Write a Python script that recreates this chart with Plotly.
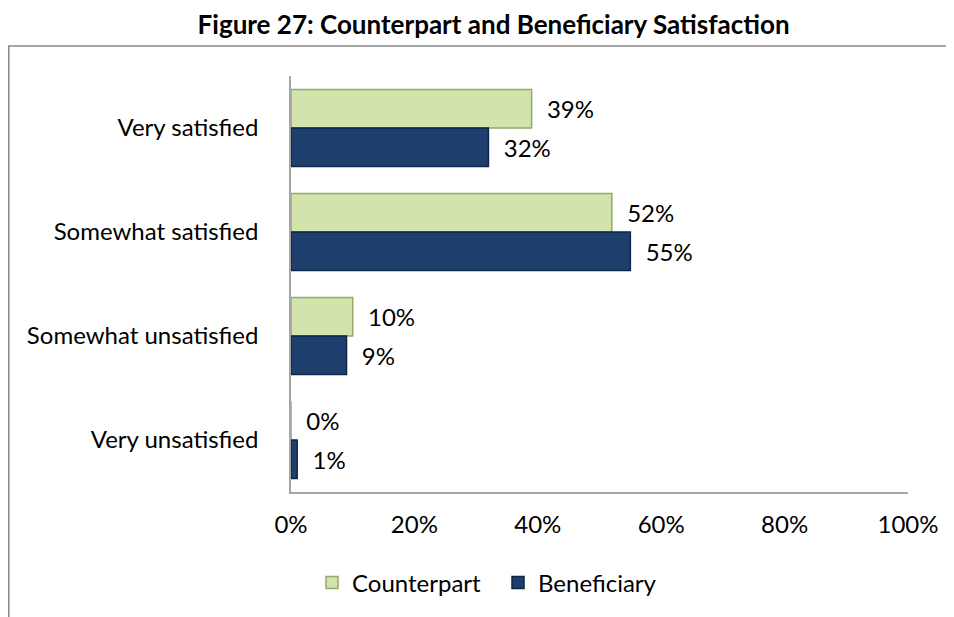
import plotly.graph_objects as go

categories = ["Very satisfied", "Somewhat satisfied", "Somewhat unsatisfied", "Very unsatisfied"]
counterpart = [0.39, 0.52, 0.10, 0.0]
beneficiary = [0.32, 0.55, 0.09, 0.01]
x_ticks = [0, 0.2, 0.4, 0.6, 0.8, 1.0]
x_tick_labels = ["0%", "20%", "40%", "60%", "80%", "100%"]

FONT = "Lato"
W, H = 954, 617
# the page body has an 8px margin, so figure coords = window coords - 8
L, R, T, B = 283, 54, 68, 133

pw = W - L - R
ph = H - T - B
def px_x(px):
    return (px - L) / pw
def px_y(py):
    return (H - B - py) / ph

fig = go.Figure()
fig.add_trace(go.Bar(
    name="Counterpart", y=categories, x=counterpart, orientation="h",
    marker=dict(color="#D3E3AC", line=dict(color="#97A868", width=1.5)),
    text=[f"{round(v*100)}%" for v in counterpart],
    texttemplate="  %{text}", textposition="outside", cliponaxis=False,
    textfont=dict(family=FONT, size=24, color="#000000"),
))
fig.add_trace(go.Bar(
    name="Beneficiary", y=categories, x=beneficiary, orientation="h",
    marker=dict(color="#1E3F6E", line=dict(color="#0E2546", width=1.5)),
    text=[f"{round(v*100)}%" for v in beneficiary],
    texttemplate="  %{text}", textposition="outside", cliponaxis=False,
    textfont=dict(family=FONT, size=24, color="#000000"),
))

fig.update_layout(
    width=W, height=H,
    margin=dict(l=L, r=R, t=T, b=B, autoexpand=False),
    paper_bgcolor="white", plot_bgcolor="white",
    barmode="group", bargap=0.26, bargroupgap=0.0,
    font=dict(family=FONT, size=24, color="#000000"),
    title=dict(text="<b>Figure 27: Counterpart and Beneficiary Satisfaction</b>",
               x=0.509, xanchor="center", y=1 - 17 / H, yanchor="middle",
               font=dict(family=FONT, size=26, color="#000000")),
    xaxis=dict(range=[0, 1], tickvals=x_ticks, ticktext=x_tick_labels,
               showgrid=False, zeroline=False, showline=True,
               linecolor="#A6A6A6", linewidth=1.5, ticks="",
               ticklabelstandoff=10, tickfont=dict(family=FONT, size=24)),
    yaxis=dict(autorange="reversed", showgrid=False, showline=True,
               linecolor="#A6A6A6", linewidth=1.5, ticks="",
               ticklabelstandoff=26, tickfont=dict(family=FONT, size=24)),
    legend=dict(orientation="h", x=px_x(304), xanchor="left",
                y=px_y(575), yanchor="middle",
                font=dict(family=FONT, size=24), entrywidth=141, entrywidthmode="pixels"),
    showlegend=True,
    shapes=[dict(type="rect", xref="paper", yref="paper",
                 x0=px_x(0.75), x1=px_x(1000), y0=px_y(700), y1=px_y(38),
                 line=dict(color="#888888", width=1.5), fillcolor="rgba(0,0,0,0)",
                 layer="below")],
)

fig.write_html("out.html")
